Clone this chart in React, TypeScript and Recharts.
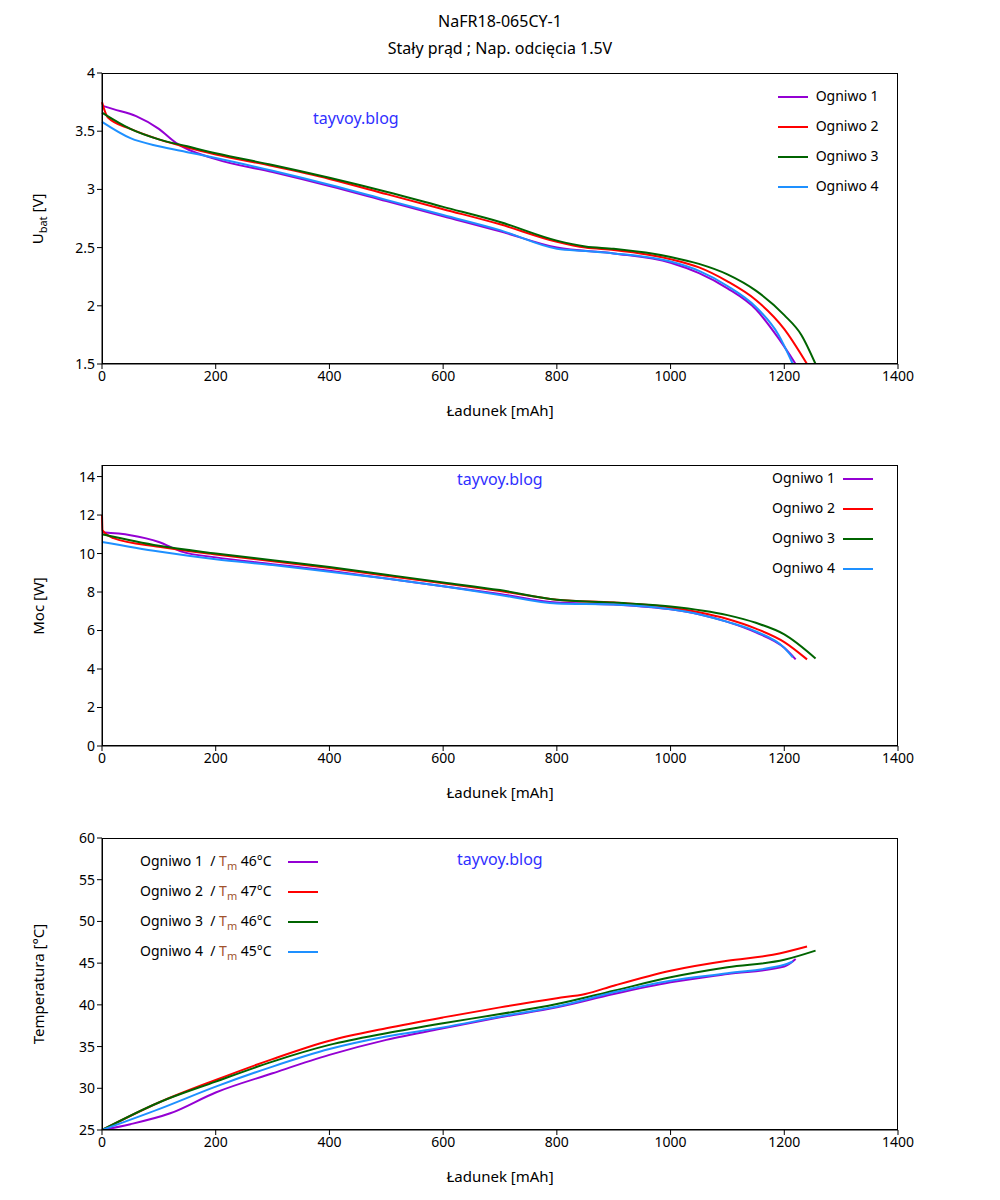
import React from "react";
import { LineChart, Line, XAxis, YAxis } from "recharts";

const colors = ["#9400d3", "#ff0000", "#006400", "#1e90ff"];
const names = ["Ogniwo 1", "Ogniwo 2", "Ogniwo 3", "Ogniwo 4"];
const xTicks = [0, 200, 400, 600, 800, 1000, 1200, 1400];

// Voltage
const vCap1 = [0, 20, 60, 100, 130, 200, 300, 400, 500, 600, 700, 800, 900, 1000, 1050, 1100, 1150, 1190, 1220];
const vVal1 = [3.72, 3.69, 3.63, 3.52, 3.4, 3.26, 3.15, 3.03, 2.9, 2.77, 2.64, 2.5, 2.45, 2.37, 2.28, 2.15, 1.97, 1.72, 1.5];
const vCap2 = [0, 10, 50, 100, 150, 200, 300, 400, 500, 600, 700, 800, 850, 900, 1000, 1050, 1100, 1150, 1200, 1240];
const vVal2 = [3.75, 3.62, 3.52, 3.43, 3.36, 3.3, 3.2, 3.09, 2.96, 2.83, 2.7, 2.55, 2.5, 2.48, 2.4, 2.33, 2.21, 2.05, 1.8, 1.5];
const vCap3 = [0, 50, 100, 150, 200, 300, 400, 500, 600, 700, 800, 850, 900, 1000, 1050, 1100, 1150, 1200, 1230, 1255];
const vVal3 = [3.66, 3.52, 3.43, 3.37, 3.31, 3.21, 3.1, 2.98, 2.85, 2.72, 2.56, 2.51, 2.49, 2.42, 2.36, 2.27, 2.13, 1.92, 1.75, 1.5];
const vCap4 = [0, 50, 100, 150, 200, 300, 400, 500, 600, 700, 800, 850, 900, 1000, 1050, 1100, 1150, 1190, 1215];
const vVal4 = [3.58, 3.44, 3.37, 3.32, 3.27, 3.16, 3.04, 2.91, 2.78, 2.65, 2.49, 2.47, 2.45, 2.38, 2.3, 2.17, 1.99, 1.75, 1.5];

// Power
const pCap1 = [0, 50, 100, 140, 200, 300, 400, 500, 600, 700, 800, 900, 1000, 1050, 1100, 1150, 1200, 1220];
const pVal1 = [11.1, 10.95, 10.6, 10.1, 9.8, 9.45, 9.1, 8.7, 8.3, 7.9, 7.45, 7.35, 7.1, 6.85, 6.45, 5.9, 5.1, 4.5];
const pCap2 = [0, 1, 20, 100, 200, 300, 400, 500, 600, 700, 800, 900, 1000, 1050, 1100, 1150, 1200, 1240];
const pVal2 = [12, 11.2, 10.8, 10.35, 9.95, 9.6, 9.25, 8.85, 8.45, 8.05, 7.6, 7.45, 7.2, 6.95, 6.6, 6.1, 5.4, 4.5];
const pCap3 = [0, 100, 200, 300, 400, 500, 600, 700, 800, 900, 1000, 1100, 1150, 1200, 1255];
const pVal3 = [11, 10.4, 10.0, 9.65, 9.3, 8.9, 8.5, 8.1, 7.6, 7.45, 7.25, 6.8, 6.4, 5.8, 4.55];
const pCap4 = [0, 100, 200, 300, 400, 500, 600, 700, 800, 900, 1000, 1050, 1100, 1150, 1200, 1215];
const pVal4 = [10.6, 10.1, 9.7, 9.4, 9.05, 8.7, 8.3, 7.85, 7.4, 7.35, 7.1, 6.85, 6.45, 5.95, 5.1, 4.6];

// Temperature
const tCap1 = [0, 50, 120, 200, 300, 400, 500, 600, 700, 800, 900, 1000, 1100, 1200, 1220];
const tVal1 = [25, 25.7, 27, 29.5, 31.8, 34, 35.8, 37.2, 38.5, 39.7, 41.3, 42.7, 43.7, 44.6, 45.5];
const tCap2 = [0, 100, 200, 300, 400, 500, 600, 700, 800, 850, 900, 1000, 1100, 1180, 1240];
const tVal2 = [25, 28.3, 31, 33.5, 35.7, 37.2, 38.5, 39.7, 40.8, 41.3, 42.3, 44.1, 45.3, 46, 47];
const tCap3 = [0, 100, 200, 300, 400, 500, 600, 700, 800, 900, 1000, 1100, 1200, 1255];
const tVal3 = [25, 28.3, 30.8, 33.2, 35.2, 36.6, 37.8, 38.9, 40.1, 41.7, 43.3, 44.5, 45.4, 46.5];
const tCap4 = [0, 100, 200, 300, 400, 500, 600, 700, 800, 900, 1000, 1100, 1200, 1215];
const tVal4 = [25, 27.5, 30.2, 32.6, 34.7, 36.2, 37.3, 38.6, 39.8, 41.5, 42.9, 43.8, 44.8, 45.2];
const tMax = ["46", "47", "46", "45"];

const zip = (c: number[], v: number[]) => c.map((x, i) => ({ x, y: v[i] }));

const FONT = "'Noto Sans', sans-serif";
const tickStyle = { fill: "#000", fontSize: 14, fontFamily: FONT };

function Panel({ series, domain, ticks, top, height, mt, mb, yLabel, children }: any) {
  const ph = height - mt - mb - 30;
  return (
    <div style={{ position: "absolute", left: 0, top, width: 984, height }}>
      <LineChart width={984} height={height} margin={{ top: mt, right: 94, bottom: mb, left: 34 }}>
        <XAxis type="number" dataKey="x" domain={[0, 1400]} ticks={xTicks}
          tick={tickStyle} stroke="#000" tickSize={5} height={30} allowDuplicatedCategory={false} />
        <YAxis type="number" domain={domain} ticks={ticks} tick={tickStyle}
          stroke="#000" tickSize={5} width={60} allowDataOverflow />
        {series.map((d: any, i: number) => (
          <Line key={i} data={d} dataKey="y" type="monotone"
            stroke={colors[i]} strokeWidth={2} dot={false} isAnimationActive={false} />
        ))}
      </LineChart>
      <div style={{ position: "absolute", left: 94, top: mt, width: 796, height: ph, border: "1px solid #000", boxSizing: "border-box", pointerEvents: "none" }} />
      <div style={{ position: "absolute", left: 30, top: mt + ph / 2, transform: "translate(-50%,-50%) rotate(-90deg)", fontSize: 15, whiteSpace: "nowrap" }}>
        {yLabel}
      </div>
      <div style={{ position: "absolute", left: 492, top: mt + ph + 36, transform: "translateX(-50%)", fontSize: 15 }}>
        Ładunek [mAh]
      </div>
      {children}
    </div>
  );
}

const Mark = ({ left, top }: any) => (
  <div style={{ position: "absolute", left, top, color: "#3030ff", fontSize: 16 }}>tayvoy.blog</div>
);
const Seg = ({ c }: any) => <span style={{ display: "inline-block", width: 30, height: 2, background: c, verticalAlign: "middle" }} />;

export default function App() {
  return (
    <div style={{ position: "relative", width: 984, height: 1184, fontFamily: FONT, color: "#000" }}>
      <div style={{ position: "absolute", left: 0, width: 984, top: 0, textAlign: "center", fontSize: 16, lineHeight: "27px" }}>
        NaFR18-065CY-1<br />Stały prąd ; Nap. odcięcia 1.5V
      </div>
      <Panel top={0} height={430} mt={65} mb={44} domain={[1.5, 4]} ticks={[1.5, 2, 2.5, 3, 3.5, 4]}
        series={[zip(vCap1, vVal1), zip(vCap2, vVal2), zip(vCap3, vVal3), zip(vCap4, vVal4)]}
        yLabel={<span>U<sub style={{ fontSize: 11 }}>bat</sub> [V]</span>}>
        <Mark left={305} top={99} />
        <div style={{ position: "absolute", left: 758, top: 72, width: 130, height: 118, background: "#fff" }}>
          {names.map((n, i) => (
            <div key={i} style={{ position: "absolute", left: 12, top: 6 + i * 30, fontSize: 14, whiteSpace: "nowrap" }}>
              <Seg c={colors[i]} /> <span style={{ marginLeft: 4 }}>{n}</span>
            </div>
          ))}
        </div>
      </Panel>
      <Panel top={430} height={390} mt={27} mb={52} domain={[0, 14.6]} ticks={[0, 2, 4, 6, 8, 10, 12, 14]}
        series={[zip(pCap1, pVal1), zip(pCap2, pVal2), zip(pCap3, pVal3), zip(pCap4, pVal4)]}
        yLabel="Moc [W]">
        <Mark left={449} top={30} />
        <div style={{ position: "absolute", left: 752, top: 28, width: 134, height: 116, background: "#fff" }}>
          {names.map((n, i) => (
            <div key={i} style={{ position: "absolute", left: 12, top: 2 + i * 30, fontSize: 14, whiteSpace: "nowrap" }}>
              <span style={{ marginRight: 8 }}>{n}</span><Seg c={colors[i]} />
            </div>
          ))}
        </div>
      </Panel>
      <Panel top={820} height={364} mt={10} mb={32} domain={[25, 60]} ticks={[25, 30, 35, 40, 45, 50, 55, 60]}
        series={[zip(tCap1, tVal1), zip(tCap2, tVal2), zip(tCap3, tVal3), zip(tCap4, tVal4)]}
        yLabel="Temperatura [°C]">
        <Mark left={449} top={20} />
        <div style={{ position: "absolute", left: 120, top: 20, width: 210, height: 120, background: "#fff" }}>
          {names.map((n, i) => (
            <div key={i} style={{ position: "absolute", left: 12, top: 3 + i * 30, fontSize: 14, whiteSpace: "nowrap" }}>
              <span>{n}&nbsp; / <span style={{ color: "#a0522d" }}>T<sub style={{ fontSize: 11 }}>m</sub></span> {tMax[i]}°C</span>
              <span style={{ marginLeft: 16 }}><Seg c={colors[i]} /></span>
            </div>
          ))}
        </div>
      </Panel>
    </div>
  );
}
